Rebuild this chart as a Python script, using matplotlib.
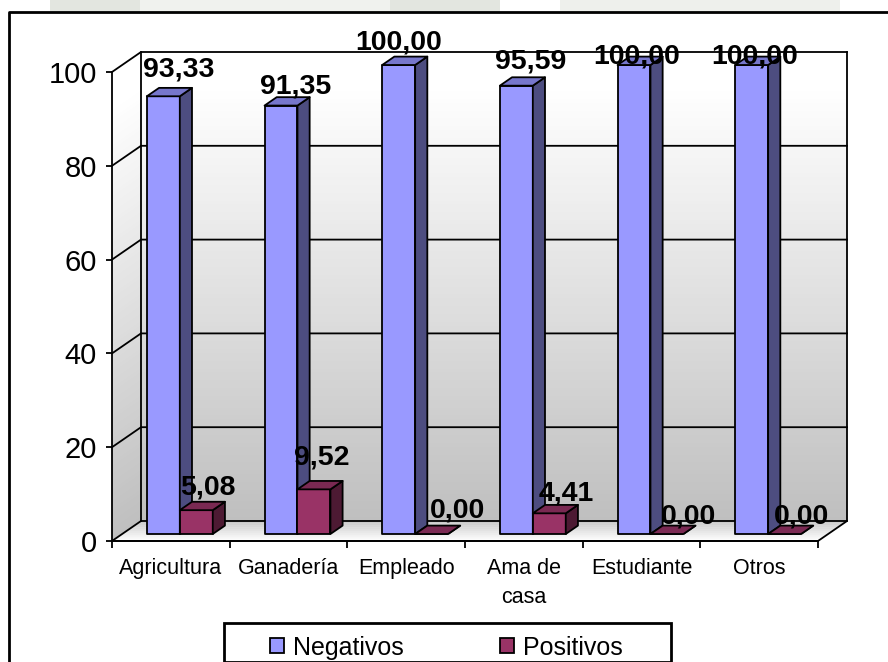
import numpy as np
import matplotlib.pyplot as plt
from matplotlib.patches import Polygon, Rectangle
from matplotlib.lines import Line2D
from matplotlib.colors import LinearSegmentedColormap

plt.rcParams['font.family'] = ['Liberation Sans', 'DejaVu Sans']

categories = ['Agricultura', 'Ganadería', 'Empleado', 'Ama de\ncasa', 'Estudiante', 'Otros']
negativos = [93.33, 91.35, 100.00, 95.59, 100.00, 100.00]
positivos = [5.08, 9.52, 0.00, 4.41, 0.00, 0.00]
series_names = ['Negativos', 'Positivos']
yticks = [0, 20, 40, 60, 80, 100]

W, H = 888, 662
fig = plt.figure(figsize=(W / 100, H / 100), dpi=100)
fig.patch.set_facecolor('white')

# faint watermark strip above the chart frame
for x0, w, col in [(50, 90, '#e3e6e0'), (140, 250, '#f0f2ee'), (390, 110, '#e3e6e0'), (560, 280, '#eef0ec')]:
    fig.add_artist(Rectangle((x0 / W, 1 - 12 / H), w / W, 12 / H, transform=fig.transFigure,
                             facecolor=col, edgecolor='none', zorder=0))
# chart frame (left and top edges visible)
fig.add_artist(Line2D([9 / W, 9 / W, 1], [0, 1 - 12 / H, 1 - 12 / H], transform=fig.transFigure,
                      color='black', lw=2, zorder=1))

ax = fig.add_axes([112 / W, 1 - 541 / H, 706 / W, 469 / H])
ax.patch.set_visible(False)
n = len(categories)

# oblique depth vector, in data units
DX = 29 / (706 / n)
DY = 20 / 4.69

def P(x, v, d):
    return (x + d * DX, v + d * DY)

# walls with vertical gradient
wall = LinearSegmentedColormap.from_list('wall', ['#bfbfbf', '#ffffff'])
floor = LinearSegmentedColormap.from_list('floor', ['#ffffff', '#c4c4c4'])
steps = 120
for j in range(steps):
    v0 = 100 * j / steps
    v1 = 100 * (j + 1) / steps + 0.3
    c = wall(min(1.0, j / (steps * 0.92)))
    ax.add_patch(Polygon([P(0, v0, 1), P(n, v0, 1), P(n, v1, 1), P(0, v1, 1)],
                         closed=True, facecolor=c, edgecolor='none', clip_on=False, zorder=1))
    ax.add_patch(Polygon([P(0, v0, 0), P(0, v0, 1), P(0, v1, 1), P(0, v1, 0)],
                         closed=True, facecolor=c, edgecolor='none', clip_on=False, zorder=1))
fsteps = 30
for j in range(fsteps):
    d0 = j / fsteps
    d1 = (j + 1) / fsteps + 0.01
    ax.add_patch(Polygon([P(0, 0, d0), P(n, 0, d0), P(n, 0, d1), P(0, 0, d1)],
                         closed=True, facecolor=floor(j / fsteps), edgecolor='none',
                         clip_on=False, zorder=1))

# gridlines and wall edges
lk = dict(color='black', lw=1.3, clip_on=False, zorder=2)
for v in yticks:
    xs, ys = zip(P(0, v, 0), P(0, v, 1), P(n, v, 1))
    ax.plot(xs, ys, **lk)
xs, ys = zip(P(0, 0, 1), P(0, 100, 1))
ax.plot(xs, ys, **lk)
xs, ys = zip(P(n, 100, 1), P(n, 0, 1), P(n, 0, 0), P(0, 0, 0))
ax.plot(xs, ys, **lk)

# 3D-looking bars
bar_span = [(0.21, 0.49), (0.49, 0.77)]
d_front, d_back = 0.35, 0.77
faces = [('#9999ff', '#4d4d80', '#7777cc'), ('#993366', '#4d1a33', '#7a2952')]
label_dx = [[15, 15, 0, 14, 3, 3], [12, 8, 26, 17, 22, 17]]
label_dy = [[20, 12, 15, 17, 2, 2], [16, 25, 17, 13, 11, 11]]

z = 3
for i in range(n):
    for s, vals in enumerate([negativos, positivos]):
        v = vals[i]
        x0, x1 = i + bar_span[s][0], i + bar_span[s][1]
        front, side, top = faces[s]
        pk = dict(closed=True, edgecolor='black', lw=1.3, clip_on=False, joinstyle='round')
        ax.add_patch(Polygon([P(x0, 0, d_front), P(x1, 0, d_front), P(x1, v, d_front), P(x0, v, d_front)],
                             facecolor=front, zorder=z, **pk))
        ax.add_patch(Polygon([P(x1, 0, d_front), P(x1, 0, d_back), P(x1, v, d_back), P(x1, v, d_front)],
                             facecolor=side, zorder=z, **pk))
        ax.add_patch(Polygon([P(x0, v, d_front), P(x1, v, d_front), P(x1, v, d_back), P(x0, v, d_back)],
                             facecolor=top, zorder=z, **pk))
        z += 1

for i in range(n):
    for s, vals in enumerate([negativos, positivos]):
        v = vals[i]
        xc = i + sum(bar_span[s]) / 2
        ax.annotate(f'{v:.2f}'.replace('.', ','), xy=P(xc, v, d_front),
                    xytext=(label_dx[s][i] * 0.72, label_dy[s][i] * 0.72), textcoords='offset points',
                    ha='center', va='baseline', fontsize=20.5, fontweight='bold',
                    annotation_clip=False, zorder=50)

ax.set_xlim(0, n)
ax.set_ylim(0, 100)
for sp in ['top', 'right']:
    ax.spines[sp].set_visible(False)
for sp in ['left', 'bottom']:
    ax.spines[sp].set_linewidth(1.3)
    ax.spines[sp].set_zorder(2)

ax.set_yticks(yticks)
ax.set_yticklabels([str(t) for t in yticks], fontsize=21)
ax.tick_params(axis='y', direction='out', length=4, width=1.3, pad=7)
ax.set_xticks(range(n + 1))
ax.set_xticklabels([])
ax.set_xticks(np.arange(n) + 0.5, minor=True)
ax.set_xticklabels(categories, minor=True, fontsize=15.5, linespacing=1.55)
ax.tick_params(axis='x', which='major', direction='out', length=5, width=1.3)
ax.tick_params(axis='x', which='minor', length=0, pad=12)

# legend
fig.add_artist(Rectangle((224 / W, 0), (671 - 224) / W, (662 - 623) / H, transform=fig.transFigure,
                         facecolor='white', edgecolor='black', lw=2, zorder=5))
for name, (fc, _, _), xm in zip(series_names, faces, [270, 500]):
    fig.add_artist(Rectangle((xm / W, 1 - 653 / H), 14 / W, 15 / H, transform=fig.transFigure,
                             facecolor=fc, edgecolor='black', lw=1.3, zorder=6))
    fig.text((xm + 23) / W, 1 - 655 / H, name, fontsize=18, ha='left', va='baseline', zorder=6)

fig.savefig('out.png', dpi=100)
